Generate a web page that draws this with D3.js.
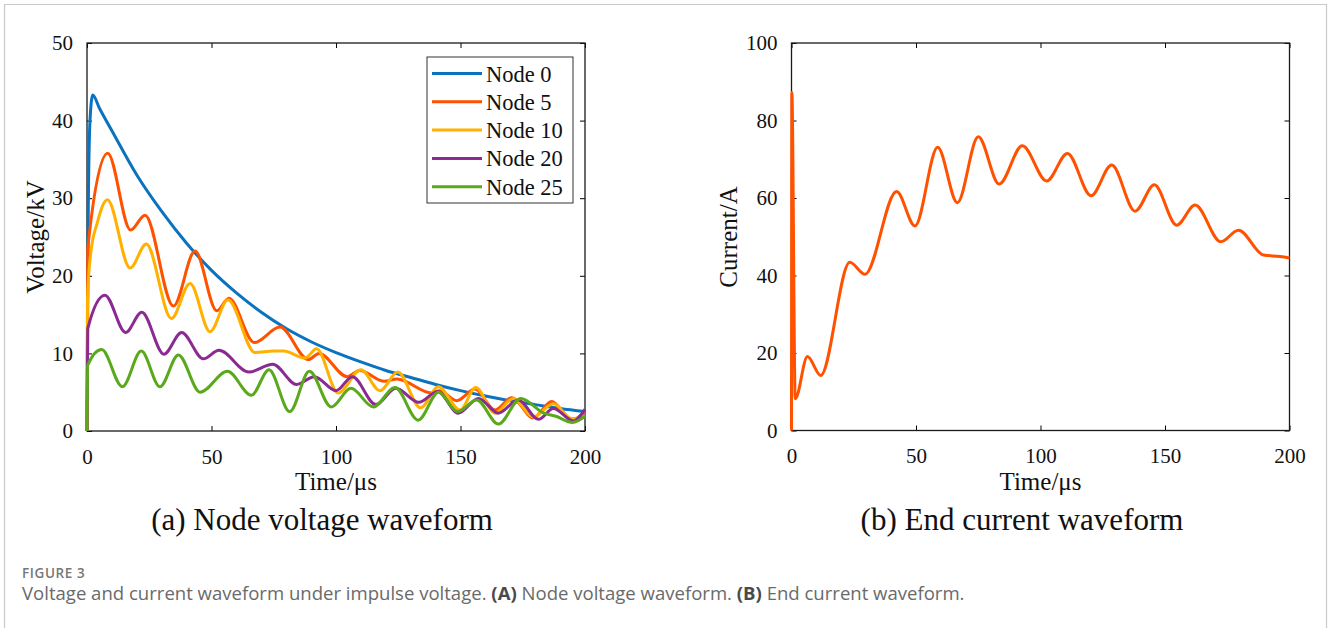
<!DOCTYPE html>
<html>
<head>
<meta charset="utf-8">
<script src="https://cdn.jsdelivr.net/npm/d3@7"></script>
<style>
  html, body { margin: 0; padding: 0; background: #fff; }
  svg { display: block; }
</style>
</head>
<body>
<svg id="chart" width="1330" height="628"></svg>
<script>
// ---------------- data ----------------
// time in µs, voltage in kV
const node0 = [[0,0],[0.5,28],[1.2,40],[2.3,43.3],[5,41.6],[10,38.7],[20,33.0],[30,28.3],[40,24.2],[50,20.7],[60,17.8],[70,15.3],[80,13.2],[90,11.5],[100,10.1],[110,8.9],[120,7.8],[130,6.9],[140,6.0],[150,5.2],[160,4.5],[170,3.9],[180,3.4],[190,2.9],[200,2.5]];
const node5 = [[0,0],[0.3,23.5],[8.3,35.8],[17.5,25.9],[23.3,27.8],[34.7,16.1],[43.4,23.2],[52.1,15.5],[57.0,17.1],[67.2,11.4],[77.5,13.4],[88.9,9.2],[93.2,10.0],[104.5,7.0],[109.5,7.8],[119.5,6.4],[124.5,6.7],[138.4,4.9],[141.6,5.2],[148.5,3.9],[155.8,5.4],[163.9,2.7],[170.6,4.3],[179.2,1.7],[186.6,3.8],[194.7,1.4],[200,2.5]];
const node10 = [[0,0],[0.2,17],[1.5,22.9],[4.1,26.8],[8.2,29.8],[17.3,21.0],[23.8,24.1],[33.9,14.5],[41.4,19.0],[49.4,12.8],[56.6,16.9],[67.5,10.1],[75,10.3],[79,10.3],[87.6,9.4],[92.2,10.6],[100.9,4.9],[110.0,7.9],[117.7,5.2],[124.8,7.6],[134.0,3.0],[141.1,5.7],[149.8,2.7],[156.1,5.6],[163.9,2.3],[171.2,4.2],[179.2,1.8],[187.3,3.5],[194.7,1.6],[200,1.9]];
const node20 = [[0,0],[0.3,13.2],[7.2,17.5],[15.5,12.7],[22.0,15.3],[30.9,9.9],[38.0,12.7],[46.7,9.3],[53.0,10.4],[65.0,7.6],[74.6,8.6],[84.2,6.0],[91.3,7.0],[100.0,5.2],[106.6,7.0],[116.0,3.4],[124.0,5.5],[133.3,3.7],[140.8,5.1],[149.1,2.3],[157.2,4.2],[165.2,2.3],[173.2,4.0],[181.3,1.5],[187.3,2.9],[195.3,1.3],[200,2.8]];
const node25 = [[0,0],[0.3,8.5],[5.9,10.5],[14.2,5.7],[21.8,10.3],[29.3,5.7],[36.7,9.8],[45.4,5.0],[56.4,7.7],[66.0,4.6],[73.1,7.9],[81.4,2.5],[89.3,7.7],[98.1,3.1],[106.0,5.5],[115.0,3.1],[123.7,5.6],[133.0,1.4],[141.2,5.0],[148.8,2.5],[156.5,4.0],[165.2,0.9],[174.2,4.2],[183.5,2.3],[188.3,1.9],[195.0,1.1],[200,1.9]];
// end current, A
const endCurrent = [[0,0],[0.15,87.2],[1.5,8.2],[6.4,19.1],[11.7,14.2],[23.4,43.4],[29.5,40.3],[42.2,61.7],[49.6,52.8],[58.7,73.1],[66.6,58.8],[75.0,75.8],[83.4,63.6],[92.7,73.5],[102.5,64.4],[110.8,71.5],[120.3,60.6],[128.6,68.5],[138.0,56.6],[145.7,63.4],[154.7,53.0],[162.1,58.2],[172.4,48.7],[179.5,51.7],[189.5,45.3],[196.2,44.9],[200,44.5]];

const seriesNames = ["Node 0","Node 5","Node 10","Node 20","Node 25"];
const seriesData = [node0, node5, node10, node20, node25];
const seriesColors = ["#0b73bd","#ff5200","#ffb000","#8c2a93","#5aa91c"];
const currentColor = "#ff5200";

const timeTicks = [0,50,100,150,200];
const voltTicks = [0,10,20,30,40,50];
const currTicks = [0,20,40,60,80,100];

// ---------------- drawing ----------------
const svg = d3.select("#chart");
const serif = "'Liberation Serif','Times New Roman',serif";

// outer frame (left, top, right)
svg.append("path")
  .attr("d", "M4.5,628 V4.5 H1326.5 V628")
  .attr("fill","none").attr("stroke","#c9c9c9").attr("stroke-width",1.2);

function panel(box, yDomain, yTicks) {
  const x = d3.scaleLinear().domain([0,200]).range([box.x0, box.x1]);
  const y = d3.scaleLinear().domain(yDomain).range([box.y1, box.y0]);
  const g = svg.append("g");

  const styleAxis = sel => {
    sel.select(".domain").remove();
    sel.selectAll(".tick line").attr("stroke","#000").attr("stroke-width",1);
    sel.selectAll("text").attr("font-family", serif).attr("font-size","21px").attr("fill","#111");
  };

  g.append("g").attr("transform",`translate(0,${box.y1})`)
    .call(d3.axisBottom(x).tickValues(timeTicks).tickSize(-5).tickSizeOuter(0).tickPadding(18))
    .call(styleAxis);
  g.append("g").attr("transform",`translate(0,${box.y0})`)
    .call(d3.axisTop(x).tickValues(timeTicks).tickSize(-5).tickSizeOuter(0).tickFormat(""))
    .call(styleAxis);
  g.append("g").attr("transform",`translate(${box.x0},0)`)
    .call(d3.axisLeft(y).tickValues(yTicks).tickSize(-5).tickSizeOuter(0).tickPadding(14))
    .call(styleAxis);
  g.append("g").attr("transform",`translate(${box.x1},0)`)
    .call(d3.axisRight(y).tickValues(yTicks).tickSize(-5).tickSizeOuter(0).tickFormat(""))
    .call(styleAxis);

  g.append("rect")
    .attr("x", box.x0).attr("y", box.y0)
    .attr("width", box.x1 - box.x0).attr("height", box.y1 - box.y0)
    .attr("fill","none").attr("stroke","#1a1a1a").attr("stroke-width",1.3);
  return {x, y, g};
}

const L = {x0: 87, x1: 585, y0: 43, y1: 431};
const R = {x0: 791.5, x1: 1289.5, y0: 43, y1: 430.5};

const pa = panel(L, [0,50], voltTicks);
const pb = panel(R, [0,100], currTicks);

const lineA = d3.line().x(d => pa.x(d[0])).y(d => pa.y(d[1])).curve(d3.curveMonotoneX);
seriesData.forEach((s, i) => {
  pa.g.append("path").datum(s)
    .attr("d", lineA).attr("fill","none")
    .attr("stroke", seriesColors[i]).attr("stroke-width",3)
    .attr("stroke-linejoin","round");
});

const lineB = d3.line().x(d => pb.x(d[0])).y(d => pb.y(d[1])).curve(d3.curveMonotoneX);
pb.g.append("path").datum(endCurrent)
  .attr("d", lineB).attr("fill","none")
  .attr("stroke", currentColor).attr("stroke-width",3).attr("stroke-linejoin","round");

// legend
const leg = pa.g.append("g");
leg.append("rect").attr("x",427).attr("y",57).attr("width",146).attr("height",146)
  .attr("fill","#fff").attr("stroke","#333").attr("stroke-width",1);
seriesNames.forEach((n, i) => {
  const yy = 73.5 + i * 28.3;
  leg.append("line").attr("x1",432).attr("x2",482).attr("y1",yy).attr("y2",yy)
    .attr("stroke", seriesColors[i]).attr("stroke-width",3);
  leg.append("text").attr("x",486).attr("y",yy + 8)
    .attr("font-family", serif).attr("font-size","22.5px").attr("fill","#111").text(n);
});

// axis titles & subtitles
function label(x, y, txt, size, rot) {
  return svg.append("text")
    .attr("transform", `translate(${x},${y})` + (rot ? " rotate(-90)" : ""))
    .attr("text-anchor","middle").attr("font-family", serif)
    .attr("font-size", size + "px").attr("fill","#111").text(txt);
}
label(336, 490, "Time/\u03bcs", 25);
label(1040.5, 490, "Time/\u03bcs", 25);
label(44, 237, "Voltage/kV", 25, true);
label(737, 237, "Current/A", 25, true);
label(322, 530, "(a) Node voltage waveform", 31);
label(1022, 530, "(b) End current waveform", 31);

// caption
const sans = "'Open Sans','Noto Sans',Lato,sans-serif";
svg.append("text").attr("x",22).attr("y",577.5)
  .attr("font-family", sans).attr("font-size","13.5px").attr("font-weight","600")
  .attr("fill","#777").attr("letter-spacing","0.6px").text("FIGURE 3");

const cap = svg.append("text").attr("x",22).attr("y",599.5)
  .attr("font-family", sans).attr("font-size","16px").attr("fill","#6a6a6a");
const parts = [
  ["Voltage and current waveform under impulse voltage. ", false],
  ["(A)", true], [" Node voltage waveform. ", false],
  ["(B)", true], [" End current waveform.", false]
];
parts.forEach(p => {
  cap.append("tspan").attr("font-weight", p[1] ? "700" : "400")
    .attr("fill", p[1] ? "#4a4a4a" : "#6a6a6a").text(p[0]);
});
// fit caption to the reference width
const w = cap.node().getComputedTextLength();
cap.attr("font-size", (16 * 943 / w).toFixed(2) + "px");
</script>
</body>
</html>
